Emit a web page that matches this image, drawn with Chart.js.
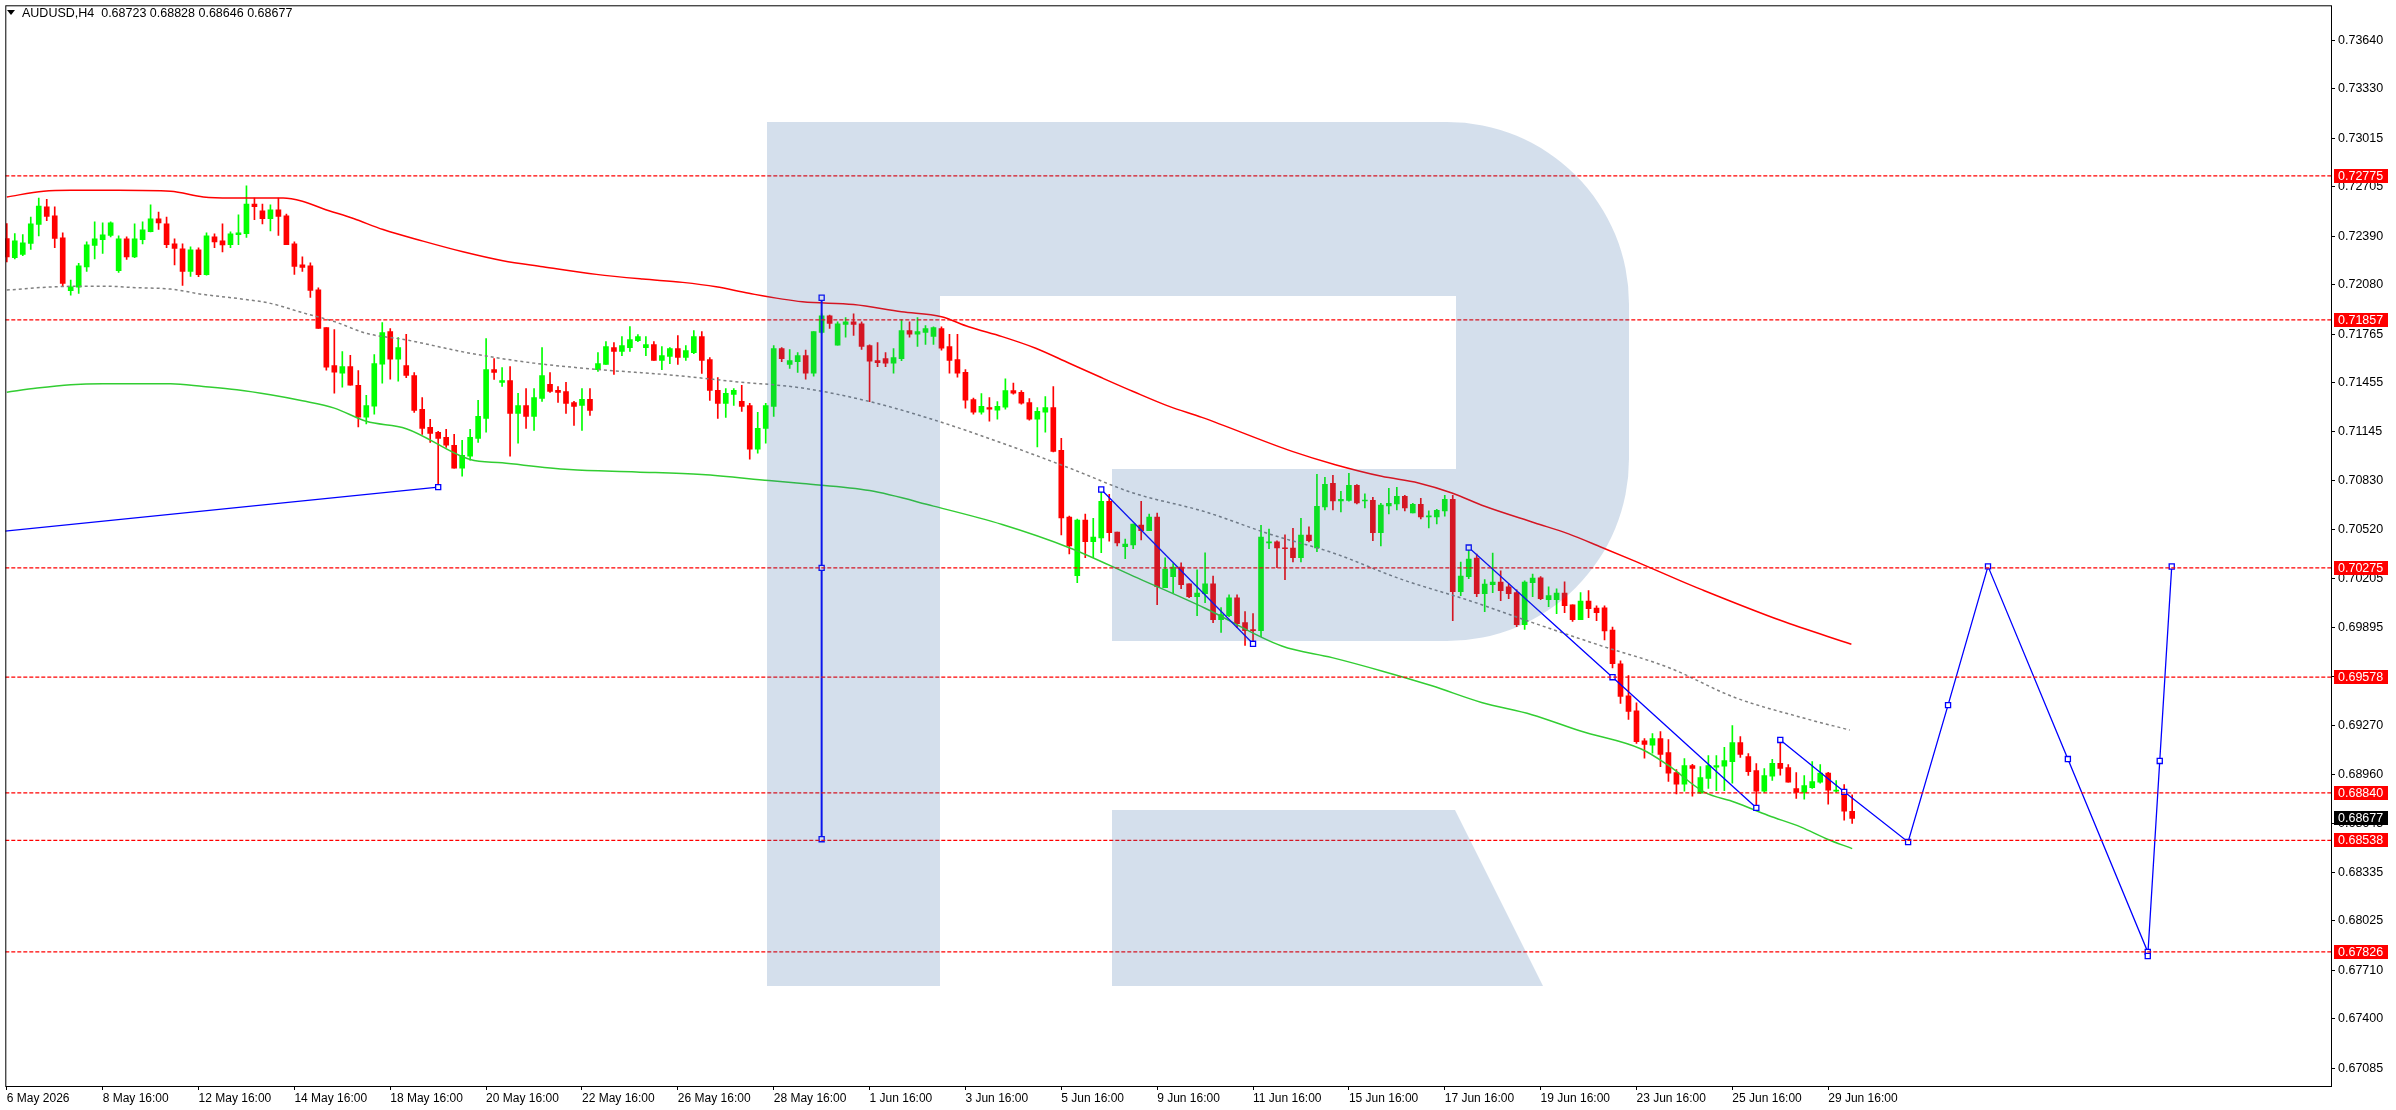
<!DOCTYPE html>
<html>
<head>
<meta charset="utf-8">
<script src="https://cdn.jsdelivr.net/npm/chart.js@4.4.0/dist/chart.umd.min.js"></script>
<style>
  html, body { margin: 0; padding: 0; background: #fff; }
</style>
</head>
<body>
<canvas id="chart" width="2396" height="1110"></canvas>
<script>
// chart header
const symbolName = 'AUDUSD,H4';

// x axis: bar index of each time label
const xLabelBars = [0, 12, 24, 36, 48, 60, 72, 84, 96, 108, 120, 132, 144, 156, 168, 180, 192, 204, 216, 228];
const xLabelText = ['6 May 2026', '8 May 16:00', '12 May 16:00', '14 May 16:00', '18 May 16:00', '20 May 16:00',
  '22 May 16:00', '26 May 16:00', '28 May 16:00', '1 Jun 16:00', '3 Jun 16:00', '5 Jun 16:00', '9 Jun 16:00',
  '11 Jun 16:00', '15 Jun 16:00', '17 Jun 16:00', '19 Jun 16:00', '23 Jun 16:00', '25 Jun 16:00', '29 Jun 16:00'];

// price axis ticks
const yTicks = [0.73640, 0.73330, 0.73015, 0.72705, 0.72390, 0.72080, 0.71765, 0.71455, 0.71145, 0.70830, 0.70520,
  0.70205, 0.69895, 0.69580, 0.69270, 0.68960, 0.68645, 0.68335, 0.68025, 0.67710, 0.67400, 0.67085];

// H4 candles
const open = [
  .72376,.72253,.72274,.72344,.72465,.72577,.72520,.72380,.72043,.72066,
  .72195,.72331,.72369,.72395,.72170,.72373,.72259,.72369,.72420,.72501,
  .72469,.72342,.72310,.72166,.72304,.72145,.72386,.72361,.72337,.72401,
  .72407,.72596,.72552,.72503,.72558,.72520,.72342,.72208,.72202,.72049,
  .71807,.71566,.71517,.71559,.71439,.71237,.71307,.71574,.71782,.71606,
  .71566,.71502,.71286,.71171,.71140,.71108,.71057,.70911,.70987,.71101,
  .71229,.71540,.71458,.71470,.71260,.71311,.71241,.71356,.71445,.71407,
  .71400,.71330,.71311,.71350,.71540,.71572,.71680,.71655,.71680,.71725,
  .71680,.71699,.71598,.71623,.71674,.71617,.71648,.71750,.71604,.71407,
  .71324,.71381,.71337,.71311,.71032,.71165,.71305,.71674,.71572,.71591,
  .71629,.71517,.71777,.71883,.71695,.71828,.71845,.71832,.71693,.71597,
  .71610,.71580,.71610,.71788,.71765,.71777,.71752,.71801,.71686,.71604,
  .71523,.71349,.71269,.71298,.71281,.71300,.71406,.71394,.71330,.71224,
  .71269,.71298,.71025,.70599,.70226,.70580,.70442,.70467,.70700,.70503,
  .70410,.70421,.70548,.70512,.70599,.70149,.70219,.70281,.70173,.70092,
  .70111,.70174,.69945,.69971,.70085,.69926,.69882,.69875,.70435,.70441,
  .70401,.70401,.70340,.70484,.70403,.70664,.70814,.70702,.70706,.70802,
  .70702,.70706,.70499,.70670,.70683,.70732,.70626,.70681,.70600,.70600,
  .70639,.70713,.70123,.70219,.70337,.70111,.70168,.70185,.70155,.70117,
  .69913,.70181,.70212,.70072,.70072,.70115,.70039,.69945,.70064,.70019,
  .70021,.69879,.69663,.69460,.69364,.69173,.69144,.69186,.69097,.68970,
  .68896,.69014,.68838,.68932,.69004,.69010,.69040,.69161,.69072,.68983,
  .68851,.68947,.69029,.69002,.68868,.68843,.68874,.68908,.68966,.68851,
  .68851,.68723];
const high = [
  .72471,.72407,.72401,.72513,.72634,.72626,.72577,.72412,.72111,.72217,
  .72354,.72482,.72475,.72482,.72393,.72386,.72469,.72482,.72590,.72545,
  .72513,.72373,.72342,.72323,.72316,.72412,.72405,.72469,.72418,.72526,
  .72711,.72634,.72596,.72590,.72634,.72532,.72354,.72259,.72221,.72062,
  .71807,.71795,.71655,.71631,.71534,.71375,.71636,.71839,.71801,.71744,
  .71765,.71521,.71362,.71222,.71146,.71159,.71127,.71089,.71159,.71343,
  .71737,.71610,.71553,.71559,.71388,.71419,.71419,.71680,.71521,.71432,
  .71458,.71337,.71419,.71419,.71648,.71718,.71712,.71750,.71814,.71763,
  .71750,.71718,.71687,.71680,.71757,.71693,.71788,.71782,.71617,.71489,
  .71419,.71419,.71439,.71324,.71267,.71324,.71693,.71680,.71668,.71648,
  .71665,.71782,.71896,.71888,.71845,.71871,.71896,.71845,.71697,.71712,
  .71648,.71673,.71858,.71845,.71871,.71820,.71813,.71813,.71765,.71765,
  .71540,.71358,.71387,.71362,.71336,.71481,.71453,.71406,.71355,.71298,
  .71368,.71432,.71101,.70605,.70586,.70618,.70592,.70758,.70745,.70503,
  .70459,.70554,.70700,.70618,.70624,.70340,.70302,.70308,.70173,.70262,
  .70371,.70223,.70022,.70104,.70104,.69996,.69983,.70547,.70522,.70448,
  .70486,.70528,.70592,.70537,.70872,.70853,.70865,.70764,.70878,.70806,
  .70747,.70725,.70687,.70783,.70789,.70738,.70687,.70719,.70639,.70649,
  .70738,.70738,.70312,.70390,.70363,.70200,.70369,.70257,.70174,.70136,
  .70193,.70236,.70219,.70155,.70142,.70187,.70039,.70117,.70130,.70034,
  .70034,.69898,.69682,.69589,.69415,.69186,.69218,.69231,.69180,.68989,
  .69059,.69023,.69008,.69078,.69078,.69131,.69269,.69199,.69091,.69027,
  .68995,.69055,.69178,.69021,.68970,.68951,.69040,.69021,.68972,.68919,
  .68894,.68828];
const low = [
  .72227,.72246,.72267,.72306,.72393,.72490,.72318,.72068,.72015,.72026,
  .72166,.72246,.72280,.72386,.72159,.72242,.72253,.72342,.72418,.72433,
  .72318,.72208,.72077,.72134,.72132,.72142,.72318,.72291,.72318,.72337,
  .72382,.72496,.72469,.72424,.72395,.72337,.72147,.72166,.72000,.71803,
  .71536,.71390,.71428,.71441,.71174,.71193,.71256,.71453,.71479,.71466,
  .71489,.71267,.71127,.71076,.70795,.71044,.70911,.70860,.70962,.71076,
  .71140,.71477,.71432,.70987,.71070,.71165,.71152,.71337,.71394,.71330,
  .71260,.71184,.71152,.71248,.71528,.71572,.71509,.71629,.71655,.71718,
  .71629,.71598,.71540,.71578,.71572,.71598,.71642,.71515,.71343,.71229,
  .71235,.71311,.71273,.70968,.71006,.71070,.71241,.71591,.71547,.71521,
  .71478,.71498,.71771,.71803,.71695,.71746,.71758,.71669,.71336,.71559,
  .71559,.71517,.71597,.71746,.71688,.71701,.71701,.71663,.71517,.71491,
  .71294,.71256,.71256,.71211,.71224,.71288,.71383,.71319,.71218,.71046,
  .71141,.71014,.70486,.70365,.70181,.70340,.70340,.70372,.70446,.70416,
  .70334,.70397,.70454,.70512,.70041,.70149,.70117,.70143,.70086,.69971,
  .70053,.69926,.69863,.69964,.69894,.69780,.69780,.69837,.70397,.70276,
  .70200,.70314,.70314,.70441,.70378,.70645,.70645,.70632,.70700,.70683,
  .70658,.70448,.70416,.70619,.70645,.70639,.70626,.70588,.70530,.70556,
  .70605,.69939,.70098,.70206,.70092,.69996,.70117,.70066,.70079,.69901,
  .69882,.70092,.70072,.70028,.69983,.69990,.69933,.69945,.69958,.69939,
  .69816,.69638,.69411,.69309,.69156,.69061,.69093,.69008,.68913,.68834,
  .68851,.68819,.68838,.68868,.68855,.68855,.68902,.69067,.68951,.68749,
  .68843,.68919,.68953,.68908,.68805,.68800,.68868,.68902,.68768,.68843,
  .68667,.68646];
const close = [
  .72259,.72361,.72348,.72469,.72583,.72516,.72376,.72089,.72068,.72202,
  .72335,.72373,.72399,.72475,.72373,.72259,.72373,.72431,.72501,.72475,
  .72337,.72312,.72166,.72304,.72145,.72393,.72354,.72335,.72405,.72412,
  .72596,.72579,.72503,.72558,.72516,.72337,.72198,.72191,.72045,.71803,
  .71555,.71523,.71559,.71441,.71237,.71311,.71578,.71776,.71606,.71680,
  .71502,.71280,.71165,.71133,.71101,.71057,.70911,.70993,.71108,.71241,
  .71540,.71521,.71470,.71260,.71311,.71241,.71362,.71502,.71400,.71394,
  .71324,.71305,.71350,.71280,.71578,.71687,.71655,.71693,.71731,.71750,
  .71699,.71598,.71629,.71674,.71617,.71661,.71750,.71598,.71407,.71324,
  .71388,.71407,.71305,.71032,.71165,.71311,.71674,.71610,.71598,.71629,
  .71517,.71782,.71883,.71835,.71832,.71845,.71828,.71688,.71593,.71584,
  .71580,.71616,.71788,.71765,.71782,.71801,.71807,.71676,.71599,.71517,
  .71345,.71269,.71305,.71288,.71305,.71406,.71389,.71326,.71224,.71273,
  .71298,.71018,.70594,.70416,.70580,.70442,.70471,.70700,.70499,.70435,
  .70427,.70554,.70512,.70599,.70156,.70268,.70281,.70168,.70092,.70115,
  .70174,.69945,.69977,.70085,.69920,.69875,.69875,.70471,.70441,.70403,
  .70397,.70340,.70484,.70448,.70668,.70808,.70702,.70713,.70802,.70689,
  .70708,.70499,.70675,.70687,.70732,.70658,.70681,.70600,.70605,.70643,
  .70713,.70123,.70223,.70331,.70111,.70172,.70185,.70130,.70111,.69913,
  .70185,.70210,.70079,.70098,.70115,.70034,.69945,.70064,.70015,.69990,
  .69873,.69665,.69455,.69360,.69167,.69150,.69186,.69086,.68966,.68896,
  .69014,.68997,.68938,.69014,.69014,.69046,.69161,.69086,.68976,.68851,
  .68951,.69029,.68997,.68908,.68843,.68887,.68913,.68966,.68858,.68858,
  .68724,.68677];

// band lines, read as [bar, price]
const bandUpper = [[0,.72641],[4.6,.72677],[8,.72683],[14,.72683],[20.5,.72677],[24.6,.72641],[28,.72634],[34.6,.72634],
  [37,.72613],[39.6,.72566],[43.4,.72503],[47.1,.72433],[52.1,.72359],[57.1,.72291],[62.1,.72234],[67.1,.72196],
  [73.8,.72147],[79.6,.72117],[84.6,.72096],[88.8,.72068],[92.9,.72026],[99.6,.71972],[106,.71955],[112,.71909],
  [117,.71877],[120.4,.71813],[124.6,.71750],[128.8,.71676],[133,.71580],[137,.71489],[141,.71400],[145.5,.71305],
  [149.6,.71235],[160.9,.71018],[166.3,.70933],[172.1,.70859],[176.7,.70817],[180.9,.70753],[185,.70668],
  [191.3,.70562],[195.5,.70492],[199.6,.70407],[203.8,.70318],[209.6,.70191],[212.1,.70138],[222,.69941],[230.9,.69788]];
const bandMiddle = [[0,.72047],[6,.72068],[12,.72072],[16.3,.72062],[20.5,.72053],[24.6,.72019],[28.8,.71994],[33,.71962],
  [37,.71903],[41,.71846],[45,.71771],[50,.71729],[58,.71644],[66,.71581],[74.6,.71538],[83,.71506],[91,.71464],
  [99.6,.71422],[108,.71336],[116,.71220],[124.6,.71071],[133,.70912],[141,.70753],[150,.70633],[158,.70492],
  [166,.70371],[174.6,.70202],[183,.70068],[191,.69926],[199.6,.69778],[208,.69640],[216.3,.69449],[224.6,.69322],[230.7,.69241]];
const bandLower = [[0,.71396],[3.8,.71422],[8,.71443],[12,.71449],[20.5,.71449],[24.6,.71432],[28.8,.71411],[33,.71379],
  [37,.71341],[41,.71294],[45,.71210],[50,.71163],[58,.70966],[62,.70945],[70.4,.70902],[78.8,.70887],[87,.70870],
  [95.4,.70832],[99.6,.70813],[108,.70768],[116,.70669],[124.6,.70552],[133,.70404],[141,.70223],[150,.70018],
  [159.6,.69777],[165.9,.69703],[172.1,.69618],[178.4,.69523],[184.6,.69417],[190.9,.69339],[197.1,.69233],
  [204.6,.69120],[208,.69015],[212.5,.68845],[216.3,.68781],[220.5,.68696],[224.6,.68622],[227.75,.68548],[231,.68485]];

// drawn objects (blue), [bar, price]
const trendA = [[-0.44,.70509],[54,.70790]];
const trendB = [[102,.71998],[102,.70275],[102,.68545]];
const trendC = [[137,.70775],[156,.69791]];
const trendD = [[183,.70405],[201,.69578],[219,.68745]];
const forecast = [[222,.69178],[230,.68847],[238,.68527],[243,.69400],[248,.70285],[258,.69056],
  [268,.67826],[268,.67800],[269.5,.69044],[271,.70284]];

// horizontal levels
const levels = [0.72775, 0.71857, 0.70275, 0.69578, 0.68840, 0.68538, 0.67826];
const lastPrice = 0.68677;

const xMin = -0.1875, xMax = 290.9375;
const FONT = '"Liberation Sans", Arial, sans-serif';

const bull = close.map((c, i) => c >= open[i]);
const candleColor = bull.map(b => b ? '#00ff00' : '#ff0000');
const pts = arr => arr.map(([x, y]) => ({x, y}));

function lineSet(points, color, width, dash, order) {
  return {
    type: 'line', data: pts(points), borderColor: color, borderWidth: width, borderDash: dash || [],
    pointRadius: 0, cubicInterpolationMode: 'monotone', order: order
  };
}
function objSet(points, firstMarked) {
  return {
    type: 'line', data: pts(points), borderColor: '#0000ff', borderWidth: 1.3, tension: 0,
    pointStyle: 'rect', pointRadius: points.map((p, i) => (i === 0 && !firstMarked) ? 0 : 3.6),
    pointBackgroundColor: '#ffffff', pointBorderColor: '#0000ff', pointBorderWidth: 1.3, order: 1
  };
}

const datasets = [
  { type: 'bar', data: low.map((l, i) => ({x: i, y: [l, high[i]]})), backgroundColor: candleColor,
    barThickness: 1, grouped: false, order: 6 },
  { type: 'bar', data: open.map((o, i) => ({x: i, y: [o, close[i]]})), backgroundColor: candleColor,
    barThickness: 5, minBarLength: 1, grouped: false, order: 5 },
  lineSet(bandUpper, '#ff0000', 1.5, null, 4),
  lineSet(bandMiddle, '#808080', 1.5, [3, 3], 4),
  lineSet(bandLower, '#32cd32', 1.5, null, 4),
  objSet(trendA, false),
  Object.assign(objSet(trendB, true), {borderWidth: 2}),
  objSet(trendC, true),
  objSet(trendD, true),
  objSet(forecast, true)
];
levels.forEach(v => {
  datasets.push({ type: 'line', data: [{x: xMin, y: v}, {x: xMax, y: v}], borderColor: '#ff0000',
    borderWidth: 1.3, borderDash: [4, 2], pointRadius: 0, order: 0 });
});

const chromePlugin = {
  id: 'chrome',
  afterDraw(chart) {
    const ctx = chart.ctx, a = chart.chartArea, y = chart.scales.y;
    // watermark over the plot
    ctx.save();
    ctx.beginPath();
    ctx.rect(a.left, a.top, a.right - a.left, a.bottom - a.top);
    ctx.clip();
    ctx.fillStyle = 'rgba(53,106,163,0.21)';
    ctx.beginPath();
    ctx.moveTo(767, 122);
    ctx.lineTo(1447, 122);
    ctx.arc(1447, 304, 182, -Math.PI / 2, 0);
    ctx.lineTo(1629, 459);
    ctx.arc(1447, 459, 182, 0, Math.PI / 2);
    ctx.lineTo(1112, 641);
    ctx.lineTo(1112, 469);
    ctx.lineTo(1456, 469);
    ctx.lineTo(1456, 296);
    ctx.lineTo(940, 296);
    ctx.lineTo(940, 986);
    ctx.lineTo(767, 986);
    ctx.closePath();
    ctx.moveTo(1112, 810);
    ctx.lineTo(1455, 810);
    ctx.lineTo(1543, 986);
    ctx.lineTo(1112, 986);
    ctx.closePath();
    ctx.fill();
    ctx.restore();

    // frame
    ctx.save();
    ctx.strokeStyle = '#000';
    ctx.lineWidth = 1;
    ctx.strokeRect(a.left + 0.5, a.top + 0.5, a.right - a.left, a.bottom - a.top);

    // price boxes on the axis
    ctx.font = '12.5px ' + FONT;
    ctx.textBaseline = 'middle';
    ctx.textAlign = 'left';
    const box = (v, bg) => {
      const py = Math.round(y.getPixelForValue(v));
      ctx.fillStyle = bg;
      ctx.fillRect(a.right + 3, py - 7, 54, 14);
      ctx.fillStyle = '#fff';
      ctx.fillText(v.toFixed(5), a.right + 7, py + 0.5);
    };
    levels.forEach(v => box(v, '#ff0000'));
    box(lastPrice, '#000000');

    // header
    ctx.fillStyle = '#000';
    ctx.beginPath();
    ctx.moveTo(7, 10); ctx.lineTo(15, 10); ctx.lineTo(11, 15); ctx.closePath();
    ctx.fill();
    ctx.font = '12.5px ' + FONT;
    ctx.textBaseline = 'alphabetic';
    ctx.fillText(symbolName + '  ' + [open[open.length - 1], high[high.length - 1], low[low.length - 1],
      close[close.length - 1]].map(v => v.toFixed(5)).join(' '), 22, 17);
    ctx.restore();
  }
};

new Chart(document.getElementById('chart'), {
  type: 'bar',
  data: { datasets: datasets },
  plugins: [chromePlugin],
  options: {
    responsive: false,
    animation: false,
    devicePixelRatio: 1,
    layout: { padding: { left: 2, top: 3, right: 0, bottom: 0 } },
    plugins: { legend: { display: false }, tooltip: { enabled: false } },
    scales: {
      x: {
        type: 'linear', min: xMin, max: xMax, offset: false,
        grid: { drawOnChartArea: false, tickLength: 4, color: '#000', offset: false },
        border: { display: false },
        afterBuildTicks: s => { s.ticks = xLabelBars.map(v => ({value: v})); },
        afterFit: s => { s.height = 24; s.paddingLeft = 0; s.paddingRight = 0; },
        ticks: {
          autoSkip: false, maxRotation: 0, align: 'start', padding: 1, color: '#000',
          font: { family: FONT, size: 12 },
          callback: (v, i) => xLabelText[i]
        }
      },
      y: {
        type: 'linear', position: 'right', min: 0.66971, max: 0.73863,
        grid: { drawOnChartArea: false, tickLength: 4, color: '#000' },
        border: { display: false },
        afterBuildTicks: s => { s.ticks = yTicks.map(v => ({value: v})); },
        afterFit: s => { s.width = 65; s.paddingTop = 0; s.paddingBottom = 0; },
        ticks: {
          autoSkip: false, padding: 3, color: '#000',
          font: { family: FONT, size: 12.5 },
          callback: v => v.toFixed(5)
        }
      }
    }
  }
});
</script>
</body>
</html>
